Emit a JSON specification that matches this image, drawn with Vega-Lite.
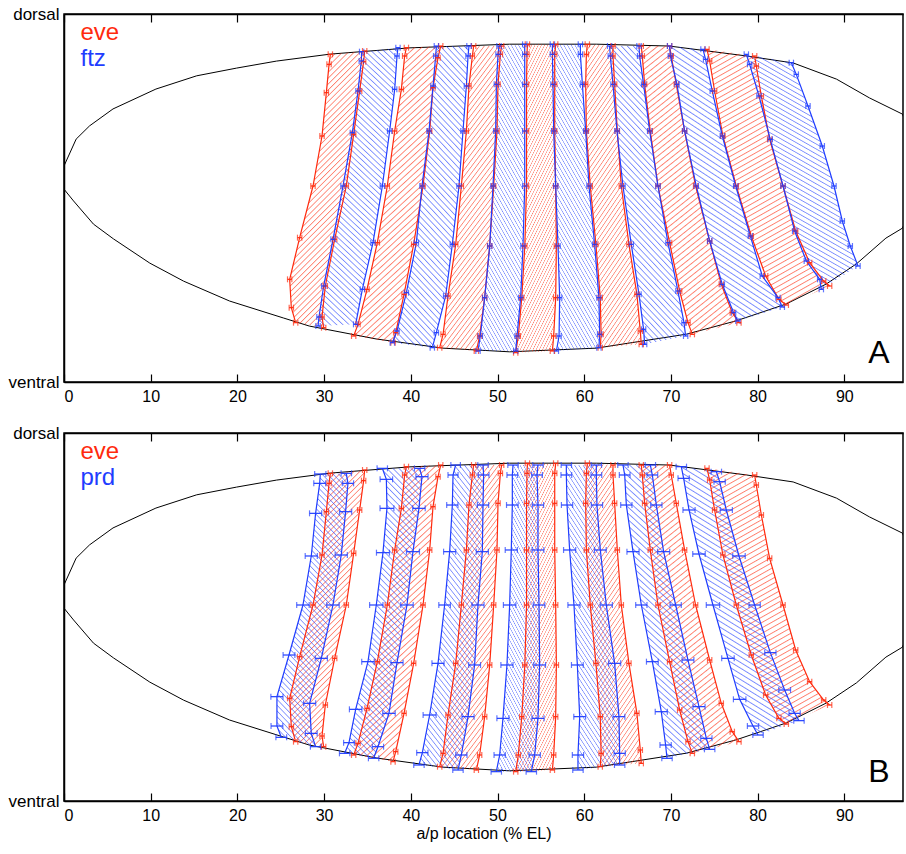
{
"$schema":"https://vega.github.io/schema/vega-lite/v6.json",
"padding":{"left":7,"top":4,"right":0,"bottom":0},
"spacing":18,
"config":{"view":{"stroke":"black","strokeWidth":1.5},"font":"Liberation Sans","axis":{"grid":false,"domainColor":"black","domainWidth":1.5,"tickColor":"black","tickWidth":1.2,"labelColor":"black","labelFont":"Liberation Sans","titleFont":"Liberation Sans","titleColor":"black"},
"style":{
"hr":{"fill":{"gradient":"linear","x1":0,"y1":0,"x2":0.32,"y2":1.184,"stops":[
{"offset":0,"color":"#ff2a0d00"},{"offset":0.003,"color":"#ff2a0d99"},{"offset":0.0065,"color":"#ff2a0d00"},
{"offset":0.0167,"color":"#ff2a0d00"},{"offset":0.0197,"color":"#ff2a0d99"},{"offset":0.0232,"color":"#ff2a0d00"},
{"offset":0.0333,"color":"#ff2a0d00"},{"offset":0.0363,"color":"#ff2a0d99"},{"offset":0.0398,"color":"#ff2a0d00"},
{"offset":0.05,"color":"#ff2a0d00"},{"offset":0.053,"color":"#ff2a0d99"},{"offset":0.0565,"color":"#ff2a0d00"},
{"offset":0.0667,"color":"#ff2a0d00"},{"offset":0.0697,"color":"#ff2a0d99"},{"offset":0.0732,"color":"#ff2a0d00"},
{"offset":0.0833,"color":"#ff2a0d00"},{"offset":0.0863,"color":"#ff2a0d99"},{"offset":0.0898,"color":"#ff2a0d00"},
{"offset":0.1,"color":"#ff2a0d00"},{"offset":0.103,"color":"#ff2a0d99"},{"offset":0.1065,"color":"#ff2a0d00"},
{"offset":0.1167,"color":"#ff2a0d00"},{"offset":0.1197,"color":"#ff2a0d99"},{"offset":0.1232,"color":"#ff2a0d00"},
{"offset":0.1333,"color":"#ff2a0d00"},{"offset":0.1363,"color":"#ff2a0d99"},{"offset":0.1398,"color":"#ff2a0d00"},
{"offset":0.15,"color":"#ff2a0d00"},{"offset":0.153,"color":"#ff2a0d99"},{"offset":0.1565,"color":"#ff2a0d00"},
{"offset":0.1667,"color":"#ff2a0d00"},{"offset":0.1697,"color":"#ff2a0d99"},{"offset":0.1732,"color":"#ff2a0d00"},
{"offset":0.1833,"color":"#ff2a0d00"},{"offset":0.1863,"color":"#ff2a0d99"},{"offset":0.1898,"color":"#ff2a0d00"},
{"offset":0.2,"color":"#ff2a0d00"},{"offset":0.203,"color":"#ff2a0d99"},{"offset":0.2065,"color":"#ff2a0d00"},
{"offset":0.2167,"color":"#ff2a0d00"},{"offset":0.2197,"color":"#ff2a0d99"},{"offset":0.2232,"color":"#ff2a0d00"},
{"offset":0.2333,"color":"#ff2a0d00"},{"offset":0.2363,"color":"#ff2a0d99"},{"offset":0.2398,"color":"#ff2a0d00"},
{"offset":0.25,"color":"#ff2a0d00"},{"offset":0.253,"color":"#ff2a0d99"},{"offset":0.2565,"color":"#ff2a0d00"},
{"offset":0.2667,"color":"#ff2a0d00"},{"offset":0.2697,"color":"#ff2a0d99"},{"offset":0.2732,"color":"#ff2a0d00"},
{"offset":0.2833,"color":"#ff2a0d00"},{"offset":0.2863,"color":"#ff2a0d99"},{"offset":0.2898,"color":"#ff2a0d00"},
{"offset":0.3,"color":"#ff2a0d00"},{"offset":0.303,"color":"#ff2a0d99"},{"offset":0.3065,"color":"#ff2a0d00"},
{"offset":0.3167,"color":"#ff2a0d00"},{"offset":0.3197,"color":"#ff2a0d99"},{"offset":0.3232,"color":"#ff2a0d00"},
{"offset":0.3333,"color":"#ff2a0d00"},{"offset":0.3363,"color":"#ff2a0d99"},{"offset":0.3398,"color":"#ff2a0d00"},
{"offset":0.35,"color":"#ff2a0d00"},{"offset":0.353,"color":"#ff2a0d99"},{"offset":0.3565,"color":"#ff2a0d00"},
{"offset":0.3667,"color":"#ff2a0d00"},{"offset":0.3697,"color":"#ff2a0d99"},{"offset":0.3732,"color":"#ff2a0d00"},
{"offset":0.3833,"color":"#ff2a0d00"},{"offset":0.3863,"color":"#ff2a0d99"},{"offset":0.3898,"color":"#ff2a0d00"},
{"offset":0.4,"color":"#ff2a0d00"},{"offset":0.403,"color":"#ff2a0d99"},{"offset":0.4065,"color":"#ff2a0d00"},
{"offset":0.4167,"color":"#ff2a0d00"},{"offset":0.4197,"color":"#ff2a0d99"},{"offset":0.4232,"color":"#ff2a0d00"},
{"offset":0.4333,"color":"#ff2a0d00"},{"offset":0.4363,"color":"#ff2a0d99"},{"offset":0.4398,"color":"#ff2a0d00"},
{"offset":0.45,"color":"#ff2a0d00"},{"offset":0.453,"color":"#ff2a0d99"},{"offset":0.4565,"color":"#ff2a0d00"},
{"offset":0.4667,"color":"#ff2a0d00"},{"offset":0.4697,"color":"#ff2a0d99"},{"offset":0.4732,"color":"#ff2a0d00"},
{"offset":0.4833,"color":"#ff2a0d00"},{"offset":0.4863,"color":"#ff2a0d99"},{"offset":0.4898,"color":"#ff2a0d00"},
{"offset":0.5,"color":"#ff2a0d00"},{"offset":0.503,"color":"#ff2a0d99"},{"offset":0.5065,"color":"#ff2a0d00"},
{"offset":0.5167,"color":"#ff2a0d00"},{"offset":0.5197,"color":"#ff2a0d99"},{"offset":0.5232,"color":"#ff2a0d00"},
{"offset":0.5333,"color":"#ff2a0d00"},{"offset":0.5363,"color":"#ff2a0d99"},{"offset":0.5398,"color":"#ff2a0d00"},
{"offset":0.55,"color":"#ff2a0d00"},{"offset":0.553,"color":"#ff2a0d99"},{"offset":0.5565,"color":"#ff2a0d00"},
{"offset":0.5667,"color":"#ff2a0d00"},{"offset":0.5697,"color":"#ff2a0d99"},{"offset":0.5732,"color":"#ff2a0d00"},
{"offset":0.5833,"color":"#ff2a0d00"},{"offset":0.5863,"color":"#ff2a0d99"},{"offset":0.5898,"color":"#ff2a0d00"},
{"offset":0.6,"color":"#ff2a0d00"},{"offset":0.603,"color":"#ff2a0d99"},{"offset":0.6065,"color":"#ff2a0d00"},
{"offset":0.6167,"color":"#ff2a0d00"},{"offset":0.6197,"color":"#ff2a0d99"},{"offset":0.6232,"color":"#ff2a0d00"},
{"offset":0.6333,"color":"#ff2a0d00"},{"offset":0.6363,"color":"#ff2a0d99"},{"offset":0.6398,"color":"#ff2a0d00"},
{"offset":0.65,"color":"#ff2a0d00"},{"offset":0.653,"color":"#ff2a0d99"},{"offset":0.6565,"color":"#ff2a0d00"},
{"offset":0.6667,"color":"#ff2a0d00"},{"offset":0.6697,"color":"#ff2a0d99"},{"offset":0.6732,"color":"#ff2a0d00"},
{"offset":0.6833,"color":"#ff2a0d00"},{"offset":0.6863,"color":"#ff2a0d99"},{"offset":0.6898,"color":"#ff2a0d00"},
{"offset":0.7,"color":"#ff2a0d00"},{"offset":0.703,"color":"#ff2a0d99"},{"offset":0.7065,"color":"#ff2a0d00"},
{"offset":0.7167,"color":"#ff2a0d00"},{"offset":0.7197,"color":"#ff2a0d99"},{"offset":0.7232,"color":"#ff2a0d00"},
{"offset":0.7333,"color":"#ff2a0d00"},{"offset":0.7363,"color":"#ff2a0d99"},{"offset":0.7398,"color":"#ff2a0d00"},
{"offset":0.75,"color":"#ff2a0d00"},{"offset":0.753,"color":"#ff2a0d99"},{"offset":0.7565,"color":"#ff2a0d00"},
{"offset":0.7667,"color":"#ff2a0d00"},{"offset":0.7697,"color":"#ff2a0d99"},{"offset":0.7732,"color":"#ff2a0d00"},
{"offset":0.7833,"color":"#ff2a0d00"},{"offset":0.7863,"color":"#ff2a0d99"},{"offset":0.7898,"color":"#ff2a0d00"},
{"offset":0.8,"color":"#ff2a0d00"},{"offset":0.803,"color":"#ff2a0d99"},{"offset":0.8065,"color":"#ff2a0d00"},
{"offset":0.8167,"color":"#ff2a0d00"},{"offset":0.8197,"color":"#ff2a0d99"},{"offset":0.8232,"color":"#ff2a0d00"},
{"offset":0.8333,"color":"#ff2a0d00"},{"offset":0.8363,"color":"#ff2a0d99"},{"offset":0.8398,"color":"#ff2a0d00"},
{"offset":0.85,"color":"#ff2a0d00"},{"offset":0.853,"color":"#ff2a0d99"},{"offset":0.8565,"color":"#ff2a0d00"},
{"offset":0.8667,"color":"#ff2a0d00"},{"offset":0.8697,"color":"#ff2a0d99"},{"offset":0.8732,"color":"#ff2a0d00"},
{"offset":0.8833,"color":"#ff2a0d00"},{"offset":0.8863,"color":"#ff2a0d99"},{"offset":0.8898,"color":"#ff2a0d00"},
{"offset":0.9,"color":"#ff2a0d00"},{"offset":0.903,"color":"#ff2a0d99"},{"offset":0.9065,"color":"#ff2a0d00"},
{"offset":0.9167,"color":"#ff2a0d00"},{"offset":0.9197,"color":"#ff2a0d99"},{"offset":0.9232,"color":"#ff2a0d00"},
{"offset":0.9333,"color":"#ff2a0d00"},{"offset":0.9363,"color":"#ff2a0d99"},{"offset":0.9398,"color":"#ff2a0d00"},
{"offset":0.95,"color":"#ff2a0d00"},{"offset":0.953,"color":"#ff2a0d99"},{"offset":0.9565,"color":"#ff2a0d00"},
{"offset":0.9667,"color":"#ff2a0d00"},{"offset":0.9697,"color":"#ff2a0d99"},{"offset":0.9732,"color":"#ff2a0d00"},
{"offset":0.9833,"color":"#ff2a0d00"},{"offset":0.9863,"color":"#ff2a0d99"},{"offset":0.9898,"color":"#ff2a0d00"},
{"offset":1,"color":"#ff2a0d00"}]}},
"hb":{"fill":{"gradient":"linear","x1":0,"y1":1,"x2":0.32,"y2":-0.184,"stops":[
{"offset":0,"color":"#1f3dff00"},{"offset":0.003,"color":"#1f3dff99"},{"offset":0.0065,"color":"#1f3dff00"},
{"offset":0.0167,"color":"#1f3dff00"},{"offset":0.0197,"color":"#1f3dff99"},{"offset":0.0232,"color":"#1f3dff00"},
{"offset":0.0333,"color":"#1f3dff00"},{"offset":0.0363,"color":"#1f3dff99"},{"offset":0.0398,"color":"#1f3dff00"},
{"offset":0.05,"color":"#1f3dff00"},{"offset":0.053,"color":"#1f3dff99"},{"offset":0.0565,"color":"#1f3dff00"},
{"offset":0.0667,"color":"#1f3dff00"},{"offset":0.0697,"color":"#1f3dff99"},{"offset":0.0732,"color":"#1f3dff00"},
{"offset":0.0833,"color":"#1f3dff00"},{"offset":0.0863,"color":"#1f3dff99"},{"offset":0.0898,"color":"#1f3dff00"},
{"offset":0.1,"color":"#1f3dff00"},{"offset":0.103,"color":"#1f3dff99"},{"offset":0.1065,"color":"#1f3dff00"},
{"offset":0.1167,"color":"#1f3dff00"},{"offset":0.1197,"color":"#1f3dff99"},{"offset":0.1232,"color":"#1f3dff00"},
{"offset":0.1333,"color":"#1f3dff00"},{"offset":0.1363,"color":"#1f3dff99"},{"offset":0.1398,"color":"#1f3dff00"},
{"offset":0.15,"color":"#1f3dff00"},{"offset":0.153,"color":"#1f3dff99"},{"offset":0.1565,"color":"#1f3dff00"},
{"offset":0.1667,"color":"#1f3dff00"},{"offset":0.1697,"color":"#1f3dff99"},{"offset":0.1732,"color":"#1f3dff00"},
{"offset":0.1833,"color":"#1f3dff00"},{"offset":0.1863,"color":"#1f3dff99"},{"offset":0.1898,"color":"#1f3dff00"},
{"offset":0.2,"color":"#1f3dff00"},{"offset":0.203,"color":"#1f3dff99"},{"offset":0.2065,"color":"#1f3dff00"},
{"offset":0.2167,"color":"#1f3dff00"},{"offset":0.2197,"color":"#1f3dff99"},{"offset":0.2232,"color":"#1f3dff00"},
{"offset":0.2333,"color":"#1f3dff00"},{"offset":0.2363,"color":"#1f3dff99"},{"offset":0.2398,"color":"#1f3dff00"},
{"offset":0.25,"color":"#1f3dff00"},{"offset":0.253,"color":"#1f3dff99"},{"offset":0.2565,"color":"#1f3dff00"},
{"offset":0.2667,"color":"#1f3dff00"},{"offset":0.2697,"color":"#1f3dff99"},{"offset":0.2732,"color":"#1f3dff00"},
{"offset":0.2833,"color":"#1f3dff00"},{"offset":0.2863,"color":"#1f3dff99"},{"offset":0.2898,"color":"#1f3dff00"},
{"offset":0.3,"color":"#1f3dff00"},{"offset":0.303,"color":"#1f3dff99"},{"offset":0.3065,"color":"#1f3dff00"},
{"offset":0.3167,"color":"#1f3dff00"},{"offset":0.3197,"color":"#1f3dff99"},{"offset":0.3232,"color":"#1f3dff00"},
{"offset":0.3333,"color":"#1f3dff00"},{"offset":0.3363,"color":"#1f3dff99"},{"offset":0.3398,"color":"#1f3dff00"},
{"offset":0.35,"color":"#1f3dff00"},{"offset":0.353,"color":"#1f3dff99"},{"offset":0.3565,"color":"#1f3dff00"},
{"offset":0.3667,"color":"#1f3dff00"},{"offset":0.3697,"color":"#1f3dff99"},{"offset":0.3732,"color":"#1f3dff00"},
{"offset":0.3833,"color":"#1f3dff00"},{"offset":0.3863,"color":"#1f3dff99"},{"offset":0.3898,"color":"#1f3dff00"},
{"offset":0.4,"color":"#1f3dff00"},{"offset":0.403,"color":"#1f3dff99"},{"offset":0.4065,"color":"#1f3dff00"},
{"offset":0.4167,"color":"#1f3dff00"},{"offset":0.4197,"color":"#1f3dff99"},{"offset":0.4232,"color":"#1f3dff00"},
{"offset":0.4333,"color":"#1f3dff00"},{"offset":0.4363,"color":"#1f3dff99"},{"offset":0.4398,"color":"#1f3dff00"},
{"offset":0.45,"color":"#1f3dff00"},{"offset":0.453,"color":"#1f3dff99"},{"offset":0.4565,"color":"#1f3dff00"},
{"offset":0.4667,"color":"#1f3dff00"},{"offset":0.4697,"color":"#1f3dff99"},{"offset":0.4732,"color":"#1f3dff00"},
{"offset":0.4833,"color":"#1f3dff00"},{"offset":0.4863,"color":"#1f3dff99"},{"offset":0.4898,"color":"#1f3dff00"},
{"offset":0.5,"color":"#1f3dff00"},{"offset":0.503,"color":"#1f3dff99"},{"offset":0.5065,"color":"#1f3dff00"},
{"offset":0.5167,"color":"#1f3dff00"},{"offset":0.5197,"color":"#1f3dff99"},{"offset":0.5232,"color":"#1f3dff00"},
{"offset":0.5333,"color":"#1f3dff00"},{"offset":0.5363,"color":"#1f3dff99"},{"offset":0.5398,"color":"#1f3dff00"},
{"offset":0.55,"color":"#1f3dff00"},{"offset":0.553,"color":"#1f3dff99"},{"offset":0.5565,"color":"#1f3dff00"},
{"offset":0.5667,"color":"#1f3dff00"},{"offset":0.5697,"color":"#1f3dff99"},{"offset":0.5732,"color":"#1f3dff00"},
{"offset":0.5833,"color":"#1f3dff00"},{"offset":0.5863,"color":"#1f3dff99"},{"offset":0.5898,"color":"#1f3dff00"},
{"offset":0.6,"color":"#1f3dff00"},{"offset":0.603,"color":"#1f3dff99"},{"offset":0.6065,"color":"#1f3dff00"},
{"offset":0.6167,"color":"#1f3dff00"},{"offset":0.6197,"color":"#1f3dff99"},{"offset":0.6232,"color":"#1f3dff00"},
{"offset":0.6333,"color":"#1f3dff00"},{"offset":0.6363,"color":"#1f3dff99"},{"offset":0.6398,"color":"#1f3dff00"},
{"offset":0.65,"color":"#1f3dff00"},{"offset":0.653,"color":"#1f3dff99"},{"offset":0.6565,"color":"#1f3dff00"},
{"offset":0.6667,"color":"#1f3dff00"},{"offset":0.6697,"color":"#1f3dff99"},{"offset":0.6732,"color":"#1f3dff00"},
{"offset":0.6833,"color":"#1f3dff00"},{"offset":0.6863,"color":"#1f3dff99"},{"offset":0.6898,"color":"#1f3dff00"},
{"offset":0.7,"color":"#1f3dff00"},{"offset":0.703,"color":"#1f3dff99"},{"offset":0.7065,"color":"#1f3dff00"},
{"offset":0.7167,"color":"#1f3dff00"},{"offset":0.7197,"color":"#1f3dff99"},{"offset":0.7232,"color":"#1f3dff00"},
{"offset":0.7333,"color":"#1f3dff00"},{"offset":0.7363,"color":"#1f3dff99"},{"offset":0.7398,"color":"#1f3dff00"},
{"offset":0.75,"color":"#1f3dff00"},{"offset":0.753,"color":"#1f3dff99"},{"offset":0.7565,"color":"#1f3dff00"},
{"offset":0.7667,"color":"#1f3dff00"},{"offset":0.7697,"color":"#1f3dff99"},{"offset":0.7732,"color":"#1f3dff00"},
{"offset":0.7833,"color":"#1f3dff00"},{"offset":0.7863,"color":"#1f3dff99"},{"offset":0.7898,"color":"#1f3dff00"},
{"offset":0.8,"color":"#1f3dff00"},{"offset":0.803,"color":"#1f3dff99"},{"offset":0.8065,"color":"#1f3dff00"},
{"offset":0.8167,"color":"#1f3dff00"},{"offset":0.8197,"color":"#1f3dff99"},{"offset":0.8232,"color":"#1f3dff00"},
{"offset":0.8333,"color":"#1f3dff00"},{"offset":0.8363,"color":"#1f3dff99"},{"offset":0.8398,"color":"#1f3dff00"},
{"offset":0.85,"color":"#1f3dff00"},{"offset":0.853,"color":"#1f3dff99"},{"offset":0.8565,"color":"#1f3dff00"},
{"offset":0.8667,"color":"#1f3dff00"},{"offset":0.8697,"color":"#1f3dff99"},{"offset":0.8732,"color":"#1f3dff00"},
{"offset":0.8833,"color":"#1f3dff00"},{"offset":0.8863,"color":"#1f3dff99"},{"offset":0.8898,"color":"#1f3dff00"},
{"offset":0.9,"color":"#1f3dff00"},{"offset":0.903,"color":"#1f3dff99"},{"offset":0.9065,"color":"#1f3dff00"},
{"offset":0.9167,"color":"#1f3dff00"},{"offset":0.9197,"color":"#1f3dff99"},{"offset":0.9232,"color":"#1f3dff00"},
{"offset":0.9333,"color":"#1f3dff00"},{"offset":0.9363,"color":"#1f3dff99"},{"offset":0.9398,"color":"#1f3dff00"},
{"offset":0.95,"color":"#1f3dff00"},{"offset":0.953,"color":"#1f3dff99"},{"offset":0.9565,"color":"#1f3dff00"},
{"offset":0.9667,"color":"#1f3dff00"},{"offset":0.9697,"color":"#1f3dff99"},{"offset":0.9732,"color":"#1f3dff00"},
{"offset":0.9833,"color":"#1f3dff00"},{"offset":0.9863,"color":"#1f3dff99"},{"offset":0.9898,"color":"#1f3dff00"},
{"offset":1,"color":"#1f3dff00"}]}}
}},
"datasets":{
"o":[
{"o":1,"x":0,"y":52.4},{"o":2,"x":-0.6,"y":55.6},{"o":3,"x":0,"y":58.7},{"o":4,"x":1.4,"y":66.0},{"o":5,"x":2.95,"y":69.6},{"o":6,"x":5.65,"y":74.2},{"o":7,"x":10.6,"y":79.6},{"o":8,"x":15.3,"y":83.2},{"o":9,"x":19.9,"y":85.3},{"o":10,"x":24.5,"y":87.2},{"o":11,"x":30.7,"y":89.1},{"o":12,"x":39.9,"y":90.8},{"o":13,"x":51.4,"y":91.8},{"o":14,"x":61.4,"y":91.8},{"o":15,"x":69.8,"y":91.3},{"o":16,"x":78.7,"y":88.6},{"o":17,"x":84.1,"y":86.7},{"o":18,"x":89.1,"y":82.3},{"o":19,"x":92.9,"y":77.2},{"o":20,"x":96.7,"y":72.8},{"o":21,"x":99.5,"y":57},{"o":22,"x":96.7,"y":41.8},{"o":23,"x":94.8,"y":39.1},{"o":24,"x":91.4,"y":32.1},{"o":25,"x":87.9,"y":26.6},{"o":26,"x":83.3,"y":21.2},{"o":27,"x":77.5,"y":16.6},{"o":28,"x":71.8,"y":13.0},{"o":29,"x":61.4,"y":9.2},{"o":30,"x":51.4,"y":8.2},{"o":31,"x":43.7,"y":9.2},{"o":32,"x":36,"y":11.7},{"o":33,"x":28.3,"y":15.2},{"o":34,"x":25.3,"y":17.4},{"o":35,"x":19.1,"y":22.0},{"o":36,"x":13.8,"y":27.4},{"o":37,"x":9.9,"y":32.3},{"o":38,"x":5.7,"y":38.9},{"o":39,"x":3.4,"y":42.9},{"o":40,"x":1.1,"y":49.2},{"o":41,"x":0,"y":52.4}
],
"b":[
{"g":"eve","s":1,"d":"a","o":1,"x":30.72,"y":89.04,"e":0.25},{"g":"eve","s":1,"d":"a","o":2,"x":30.57,"y":86.32,"e":0.25},{"g":"eve","s":1,"d":"a","o":3,"x":30.26,"y":78.62,"e":0.25},{"g":"eve","s":1,"d":"a","o":4,"x":29.76,"y":66.85,"e":0.25},{"g":"eve","s":1,"d":"a","o":5,"x":28.72,"y":53.26,"e":0.25},{"g":"eve","s":1,"d":"a","o":6,"x":27.18,"y":39.22,"e":0.25},{"g":"eve","s":1,"d":"a","o":7,"x":26.03,"y":27.9,"e":0.25},{"g":"eve","s":1,"d":"a","o":8,"x":26.22,"y":20.2,"e":0.25},{"g":"eve","s":1,"d":"a","o":9,"x":26.72,"y":16.12,"e":0.25},
{"g":"eve","s":1,"d":"b","o":19,"x":34.68,"y":89.95,"e":0.25},{"g":"eve","s":1,"d":"b","o":18,"x":34.56,"y":87.05,"e":0.25},{"g":"eve","s":1,"d":"b","o":17,"x":34.1,"y":79.08,"e":0.25},{"g":"eve","s":1,"d":"b","o":16,"x":33.41,"y":67.3,"e":0.25},{"g":"eve","s":1,"d":"b","o":15,"x":32.56,"y":53.26,"e":0.25},{"g":"eve","s":1,"d":"b","o":14,"x":31.22,"y":38.77,"e":0.25},{"g":"eve","s":1,"d":"b","o":13,"x":30.14,"y":26.09,"e":0.25},{"g":"eve","s":1,"d":"b","o":12,"x":29.76,"y":17.66,"e":0.25},{"g":"eve","s":1,"d":"b","o":11,"x":29.95,"y":14.76,"e":0.25},
{"g":"eve","s":2,"d":"a","o":1,"x":39.49,"y":90.85,"e":0.25},{"g":"eve","s":2,"d":"a","o":2,"x":39.29,"y":88.59,"e":0.25},{"g":"eve","s":2,"d":"a","o":3,"x":38.91,"y":79.53,"e":0.25},{"g":"eve","s":2,"d":"a","o":4,"x":38.14,"y":68.21,"e":0.25},{"g":"eve","s":2,"d":"a","o":5,"x":37.29,"y":53.26,"e":0.25},{"g":"eve","s":2,"d":"a","o":6,"x":36.14,"y":37.86,"e":0.25},{"g":"eve","s":2,"d":"a","o":7,"x":34.95,"y":25.18,"e":0.25},{"g":"eve","s":2,"d":"a","o":8,"x":33.91,"y":15.67,"e":0.25},{"g":"eve","s":2,"d":"a","o":9,"x":33.41,"y":12.5,"e":0.25},
{"g":"eve","s":2,"d":"b","o":19,"x":43.45,"y":91.3,"e":0.25},{"g":"eve","s":2,"d":"b","o":18,"x":43.14,"y":88.13,"e":0.25},{"g":"eve","s":2,"d":"b","o":17,"x":42.56,"y":79.98,"e":0.25},{"g":"eve","s":2,"d":"b","o":16,"x":42.18,"y":68.21,"e":0.25},{"g":"eve","s":2,"d":"b","o":15,"x":41.41,"y":53.26,"e":0.25},{"g":"eve","s":2,"d":"b","o":14,"x":40.33,"y":37.41,"e":0.25},{"g":"eve","s":2,"d":"b","o":13,"x":39.22,"y":23.82,"e":0.25},{"g":"eve","s":2,"d":"b","o":12,"x":38.26,"y":13.41,"e":0.25},{"g":"eve","s":2,"d":"b","o":11,"x":37.95,"y":10.69,"e":0.25},
{"g":"eve","s":3,"d":"a","o":1,"x":47.25,"y":91.3,"e":0.25},{"g":"eve","s":3,"d":"a","o":2,"x":47.1,"y":88.59,"e":0.25},{"g":"eve","s":3,"d":"a","o":3,"x":46.71,"y":80.43,"e":0.25},{"g":"eve","s":3,"d":"a","o":4,"x":46.41,"y":68.21,"e":0.25},{"g":"eve","s":3,"d":"a","o":5,"x":45.83,"y":53.26,"e":0.25},{"g":"eve","s":3,"d":"a","o":6,"x":45.18,"y":37.41,"e":0.25},{"g":"eve","s":3,"d":"a","o":7,"x":44.29,"y":23.37,"e":0.25},{"g":"eve","s":3,"d":"a","o":8,"x":43.72,"y":12.95,"e":0.25},{"g":"eve","s":3,"d":"a","o":9,"x":43.33,"y":9.33,"e":0.25},
{"g":"eve","s":3,"d":"b","o":19,"x":50.48,"y":91.3,"e":0.25},{"g":"eve","s":3,"d":"b","o":18,"x":50.33,"y":89.04,"e":0.25},{"g":"eve","s":3,"d":"b","o":17,"x":50.06,"y":80.89,"e":0.25},{"g":"eve","s":3,"d":"b","o":16,"x":49.94,"y":68.21,"e":0.25},{"g":"eve","s":3,"d":"b","o":15,"x":49.56,"y":53.26,"e":0.25},{"g":"eve","s":3,"d":"b","o":14,"x":49.1,"y":36.96,"e":0.25},{"g":"eve","s":3,"d":"b","o":13,"x":48.52,"y":22.92,"e":0.25},{"g":"eve","s":3,"d":"b","o":12,"x":47.94,"y":12.5,"e":0.25},{"g":"eve","s":3,"d":"b","o":11,"x":47.56,"y":8.42,"e":0.25},
{"g":"eve","s":4,"d":"a","o":1,"x":53.45,"y":91.76,"e":0.25},{"g":"eve","s":4,"d":"a","o":2,"x":53.4,"y":89.04,"e":0.25},{"g":"eve","s":4,"d":"a","o":3,"x":53.35,"y":80.89,"e":0.25},{"g":"eve","s":4,"d":"a","o":4,"x":53.35,"y":68.21,"e":0.25},{"g":"eve","s":4,"d":"a","o":5,"x":53.35,"y":53.26,"e":0.25},{"g":"eve","s":4,"d":"a","o":6,"x":53.15,"y":36.96,"e":0.25},{"g":"eve","s":4,"d":"a","o":7,"x":52.8,"y":22.92,"e":0.25},{"g":"eve","s":4,"d":"a","o":8,"x":52.4,"y":12.5,"e":0.25},{"g":"eve","s":4,"d":"a","o":9,"x":52.1,"y":7.97,"e":0.25},
{"g":"eve","s":4,"d":"b","o":19,"x":56.71,"y":91.76,"e":0.25},{"g":"eve","s":4,"d":"b","o":18,"x":56.6,"y":89.04,"e":0.25},{"g":"eve","s":4,"d":"b","o":17,"x":56.6,"y":80.89,"e":0.25},{"g":"eve","s":4,"d":"b","o":16,"x":56.6,"y":68.21,"e":0.25},{"g":"eve","s":4,"d":"b","o":15,"x":56.71,"y":53.26,"e":0.25},{"g":"eve","s":4,"d":"b","o":14,"x":56.79,"y":36.96,"e":0.25},{"g":"eve","s":4,"d":"b","o":13,"x":56.71,"y":22.92,"e":0.25},{"g":"eve","s":4,"d":"b","o":12,"x":56.48,"y":12.5,"e":0.25},{"g":"eve","s":4,"d":"b","o":11,"x":56.33,"y":8.42,"e":0.25},
{"g":"eve","s":5,"d":"a","o":1,"x":60.36,"y":91.76,"e":0.25},{"g":"eve","s":5,"d":"a","o":2,"x":60.25,"y":89.04,"e":0.25},{"g":"eve","s":5,"d":"a","o":3,"x":60.17,"y":80.89,"e":0.25},{"g":"eve","s":5,"d":"a","o":4,"x":60.25,"y":68.21,"e":0.25},{"g":"eve","s":5,"d":"a","o":5,"x":60.7,"y":53.26,"e":0.25},{"g":"eve","s":5,"d":"a","o":6,"x":61.35,"y":37.41,"e":0.25},{"g":"eve","s":5,"d":"a","o":7,"x":61.85,"y":22.92,"e":0.25},{"g":"eve","s":5,"d":"a","o":8,"x":61.95,"y":12.95,"e":0.25},{"g":"eve","s":5,"d":"a","o":9,"x":61.85,"y":9.33,"e":0.25},
{"g":"eve","s":5,"d":"b","o":19,"x":63.32,"y":91.3,"e":0.25},{"g":"eve","s":5,"d":"b","o":18,"x":63.32,"y":88.59,"e":0.25},{"g":"eve","s":5,"d":"b","o":17,"x":63.51,"y":80.89,"e":0.25},{"g":"eve","s":5,"d":"b","o":16,"x":63.82,"y":68.21,"e":0.25},{"g":"eve","s":5,"d":"b","o":15,"x":64.28,"y":53.26,"e":0.25},{"g":"eve","s":5,"d":"b","o":14,"x":65.16,"y":37.41,"e":0.25},{"g":"eve","s":5,"d":"b","o":13,"x":66.08,"y":23.82,"e":0.25},{"g":"eve","s":5,"d":"b","o":12,"x":66.47,"y":13.86,"e":0.25},{"g":"eve","s":5,"d":"b","o":11,"x":66.58,"y":10.23,"e":0.25},
{"g":"eve","s":6,"d":"a","o":1,"x":66.58,"y":91.3,"e":0.25},{"g":"eve","s":6,"d":"a","o":2,"x":66.7,"y":88.59,"e":0.25},{"g":"eve","s":6,"d":"a","o":3,"x":66.97,"y":80.89,"e":0.25},{"g":"eve","s":6,"d":"a","o":4,"x":67.62,"y":68.21,"e":0.25},{"g":"eve","s":6,"d":"a","o":5,"x":68.51,"y":53.26,"e":0.25},{"g":"eve","s":6,"d":"a","o":6,"x":69.85,"y":37.86,"e":0.25},{"g":"eve","s":6,"d":"a","o":7,"x":71.01,"y":24.73,"e":0.25},{"g":"eve","s":6,"d":"a","o":8,"x":71.97,"y":16.12,"e":0.25},{"g":"eve","s":6,"d":"a","o":9,"x":72.47,"y":12.95,"e":0.25},
{"g":"eve","s":6,"d":"b","o":19,"x":69.85,"y":91.3,"e":0.25},{"g":"eve","s":6,"d":"b","o":18,"x":70.04,"y":88.59,"e":0.25},{"g":"eve","s":6,"d":"b","o":17,"x":70.62,"y":80.89,"e":0.25},{"g":"eve","s":6,"d":"b","o":16,"x":71.58,"y":68.21,"e":0.25},{"g":"eve","s":6,"d":"b","o":15,"x":72.85,"y":53.26,"e":0.25},{"g":"eve","s":6,"d":"b","o":14,"x":74.47,"y":38.31,"e":0.25},{"g":"eve","s":6,"d":"b","o":13,"x":75.81,"y":26.54,"e":0.25},{"g":"eve","s":6,"d":"b","o":12,"x":77.08,"y":18.84,"e":0.25},{"g":"eve","s":6,"d":"b","o":11,"x":77.85,"y":16.12,"e":0.25},
{"g":"eve","s":7,"d":"a","o":1,"x":74.16,"y":90.4,"e":0.25},{"g":"eve","s":7,"d":"a","o":2,"x":74.47,"y":87.23,"e":0.25},{"g":"eve","s":7,"d":"a","o":3,"x":75.04,"y":79.08,"e":0.25},{"g":"eve","s":7,"d":"a","o":4,"x":76.0,"y":66.85,"e":0.25},{"g":"eve","s":7,"d":"a","o":5,"x":77.54,"y":53.26,"e":0.25},{"g":"eve","s":7,"d":"a","o":6,"x":79.27,"y":39.67,"e":0.25},{"g":"eve","s":7,"d":"a","o":7,"x":80.93,"y":28.8,"e":0.25},{"g":"eve","s":7,"d":"a","o":8,"x":82.46,"y":22.46,"e":0.25},{"g":"eve","s":7,"d":"a","o":9,"x":83.31,"y":20.92,"e":0.25},
{"g":"eve","s":7,"d":"b","o":19,"x":79.66,"y":88.59,"e":0.25},{"g":"eve","s":7,"d":"b","o":18,"x":79.85,"y":85.87,"e":0.25},{"g":"eve","s":7,"d":"b","o":17,"x":80.43,"y":77.72,"e":0.25},{"g":"eve","s":7,"d":"b","o":16,"x":81.39,"y":65.94,"e":0.25},{"g":"eve","s":7,"d":"b","o":15,"x":82.93,"y":53.26,"e":0.25},{"g":"eve","s":7,"d":"b","o":14,"x":84.39,"y":41.03,"e":0.25},{"g":"eve","s":7,"d":"b","o":13,"x":86.0,"y":32.43,"e":0.25},{"g":"eve","s":7,"d":"b","o":12,"x":87.62,"y":27.44,"e":0.25},{"g":"eve","s":7,"d":"b","o":11,"x":88.31,"y":26.09,"e":0.25},
{"g":"ftz","s":1,"d":"a","o":1,"x":34.33,"y":89.76,"e":0.25},{"g":"ftz","s":1,"d":"a","o":2,"x":34.29,"y":87.23,"e":0.25},{"g":"ftz","s":1,"d":"a","o":3,"x":33.91,"y":79.08,"e":0.25},{"g":"ftz","s":1,"d":"a","o":4,"x":33.26,"y":67.75,"e":0.25},{"g":"ftz","s":1,"d":"a","o":5,"x":32.18,"y":53.26,"e":0.25},{"g":"ftz","s":1,"d":"a","o":6,"x":31.03,"y":38.77,"e":0.25},{"g":"ftz","s":1,"d":"a","o":7,"x":29.95,"y":26.09,"e":0.25},{"g":"ftz","s":1,"d":"a","o":8,"x":29.41,"y":17.66,"e":0.25},{"g":"ftz","s":1,"d":"a","o":9,"x":29.3,"y":15.22,"e":0.25},
{"g":"ftz","s":1,"d":"b","o":19,"x":38.52,"y":90.85,"e":0.25},{"g":"ftz","s":1,"d":"b","o":18,"x":38.41,"y":88.59,"e":0.25},{"g":"ftz","s":1,"d":"b","o":17,"x":38.14,"y":79.53,"e":0.25},{"g":"ftz","s":1,"d":"b","o":16,"x":37.56,"y":68.21,"e":0.25},{"g":"ftz","s":1,"d":"b","o":15,"x":36.72,"y":53.26,"e":0.25},{"g":"ftz","s":1,"d":"b","o":14,"x":35.64,"y":37.86,"e":0.25},{"g":"ftz","s":1,"d":"b","o":13,"x":34.41,"y":25.18,"e":0.25},{"g":"ftz","s":1,"d":"b","o":12,"x":33.64,"y":15.67,"e":0.25},
{"g":"ftz","s":2,"d":"a","o":1,"x":42.95,"y":91.3,"e":0.25},{"g":"ftz","s":2,"d":"a","o":2,"x":42.87,"y":88.59,"e":0.25},{"g":"ftz","s":2,"d":"a","o":3,"x":42.56,"y":80.43,"e":0.25},{"g":"ftz","s":2,"d":"a","o":4,"x":42.1,"y":68.21,"e":0.25},{"g":"ftz","s":2,"d":"a","o":5,"x":41.29,"y":53.26,"e":0.25},{"g":"ftz","s":2,"d":"a","o":6,"x":40.64,"y":37.86,"e":0.25},{"g":"ftz","s":2,"d":"a","o":7,"x":39.49,"y":24.27,"e":0.25},{"g":"ftz","s":2,"d":"a","o":8,"x":38.41,"y":13.86,"e":0.25},{"g":"ftz","s":2,"d":"a","o":9,"x":37.87,"y":10.69,"e":0.25},
{"g":"ftz","s":2,"d":"b","o":19,"x":46.71,"y":91.3,"e":0.25},{"g":"ftz","s":2,"d":"b","o":18,"x":46.6,"y":88.59,"e":0.25},{"g":"ftz","s":2,"d":"b","o":17,"x":46.41,"y":80.43,"e":0.25},{"g":"ftz","s":2,"d":"b","o":16,"x":46.02,"y":68.21,"e":0.25},{"g":"ftz","s":2,"d":"b","o":15,"x":45.56,"y":53.26,"e":0.25},{"g":"ftz","s":2,"d":"b","o":14,"x":44.79,"y":37.41,"e":0.25},{"g":"ftz","s":2,"d":"b","o":13,"x":44.02,"y":23.37,"e":0.25},{"g":"ftz","s":2,"d":"b","o":12,"x":42.95,"y":13.41,"e":0.25},{"g":"ftz","s":2,"d":"b","o":11,"x":42.48,"y":9.33,"e":0.25},
{"g":"ftz","s":3,"d":"a","o":1,"x":50.17,"y":91.3,"e":0.25},{"g":"ftz","s":3,"d":"a","o":2,"x":50.06,"y":89.04,"e":0.25},{"g":"ftz","s":3,"d":"a","o":3,"x":49.87,"y":80.89,"e":0.25},{"g":"ftz","s":3,"d":"a","o":4,"x":49.79,"y":68.21,"e":0.25},{"g":"ftz","s":3,"d":"a","o":5,"x":49.48,"y":53.26,"e":0.25},{"g":"ftz","s":3,"d":"a","o":6,"x":49.1,"y":36.96,"e":0.25},{"g":"ftz","s":3,"d":"a","o":7,"x":48.52,"y":22.92,"e":0.25},{"g":"ftz","s":3,"d":"a","o":8,"x":48.02,"y":12.5,"e":0.25},{"g":"ftz","s":3,"d":"a","o":9,"x":47.75,"y":8.42,"e":0.25},
{"g":"ftz","s":3,"d":"b","o":19,"x":53.14,"y":91.76,"e":0.25},{"g":"ftz","s":3,"d":"b","o":18,"x":53.14,"y":89.04,"e":0.25},{"g":"ftz","s":3,"d":"b","o":17,"x":53.14,"y":80.89,"e":0.25},{"g":"ftz","s":3,"d":"b","o":16,"x":53.14,"y":68.21,"e":0.25},{"g":"ftz","s":3,"d":"b","o":15,"x":53.14,"y":53.26,"e":0.25},{"g":"ftz","s":3,"d":"b","o":14,"x":52.94,"y":36.96,"e":0.25},{"g":"ftz","s":3,"d":"b","o":13,"x":52.67,"y":22.92,"e":0.25},{"g":"ftz","s":3,"d":"b","o":12,"x":52.25,"y":12.5,"e":0.25},{"g":"ftz","s":3,"d":"b","o":11,"x":52.1,"y":8.42,"e":0.25},
{"g":"ftz","s":4,"d":"a","o":1,"x":56.33,"y":91.76,"e":0.25},{"g":"ftz","s":4,"d":"a","o":2,"x":56.33,"y":89.04,"e":0.25},{"g":"ftz","s":4,"d":"a","o":3,"x":56.4,"y":80.89,"e":0.25},{"g":"ftz","s":4,"d":"a","o":4,"x":56.48,"y":68.21,"e":0.25},{"g":"ftz","s":4,"d":"a","o":5,"x":56.71,"y":53.26,"e":0.25},{"g":"ftz","s":4,"d":"a","o":6,"x":56.98,"y":36.96,"e":0.25},{"g":"ftz","s":4,"d":"a","o":7,"x":57.17,"y":22.92,"e":0.25},{"g":"ftz","s":4,"d":"a","o":8,"x":57.1,"y":12.5,"e":0.25},{"g":"ftz","s":4,"d":"a","o":9,"x":56.79,"y":8.42,"e":0.25},
{"g":"ftz","s":4,"d":"b","o":19,"x":59.56,"y":91.76,"e":0.25},{"g":"ftz","s":4,"d":"b","o":18,"x":59.56,"y":89.04,"e":0.25},{"g":"ftz","s":4,"d":"b","o":17,"x":59.79,"y":80.89,"e":0.25},{"g":"ftz","s":4,"d":"b","o":16,"x":60.17,"y":68.21,"e":0.25},{"g":"ftz","s":4,"d":"b","o":15,"x":60.55,"y":53.26,"e":0.25},{"g":"ftz","s":4,"d":"b","o":14,"x":61.2,"y":37.41,"e":0.25},{"g":"ftz","s":4,"d":"b","o":13,"x":61.7,"y":22.92,"e":0.25},{"g":"ftz","s":4,"d":"b","o":12,"x":61.78,"y":12.95,"e":0.25},{"g":"ftz","s":4,"d":"b","o":11,"x":61.7,"y":9.33,"e":0.25},
{"g":"ftz","s":5,"d":"a","o":1,"x":62.93,"y":91.3,"e":0.25},{"g":"ftz","s":5,"d":"a","o":2,"x":63.01,"y":88.59,"e":0.25},{"g":"ftz","s":5,"d":"a","o":3,"x":63.32,"y":80.89,"e":0.25},{"g":"ftz","s":5,"d":"a","o":4,"x":63.78,"y":68.21,"e":0.25},{"g":"ftz","s":5,"d":"a","o":5,"x":64.47,"y":53.26,"e":0.25},{"g":"ftz","s":5,"d":"a","o":6,"x":65.43,"y":37.41,"e":0.25},{"g":"ftz","s":5,"d":"a","o":7,"x":66.32,"y":23.82,"e":0.25},{"g":"ftz","s":5,"d":"a","o":8,"x":66.85,"y":14.31,"e":0.25},{"g":"ftz","s":5,"d":"a","o":9,"x":66.97,"y":10.23,"e":0.25},
{"g":"ftz","s":5,"d":"b","o":19,"x":66.32,"y":91.3,"e":0.25},{"g":"ftz","s":5,"d":"b","o":18,"x":66.39,"y":88.59,"e":0.25},{"g":"ftz","s":5,"d":"b","o":17,"x":66.85,"y":80.89,"e":0.25},{"g":"ftz","s":5,"d":"b","o":16,"x":67.55,"y":68.21,"e":0.25},{"g":"ftz","s":5,"d":"b","o":15,"x":68.51,"y":53.26,"e":0.25},{"g":"ftz","s":5,"d":"b","o":14,"x":69.66,"y":37.86,"e":0.25},{"g":"ftz","s":5,"d":"b","o":13,"x":70.81,"y":24.73,"e":0.25},{"g":"ftz","s":5,"d":"b","o":12,"x":71.51,"y":16.12,"e":0.25},{"g":"ftz","s":5,"d":"b","o":11,"x":71.7,"y":12.5,"e":0.25},
{"g":"ftz","s":6,"d":"a","o":1,"x":69.85,"y":91.3,"e":0.25},{"g":"ftz","s":6,"d":"a","o":2,"x":69.93,"y":88.59,"e":0.25},{"g":"ftz","s":6,"d":"a","o":3,"x":70.7,"y":80.89,"e":0.25},{"g":"ftz","s":6,"d":"a","o":4,"x":71.58,"y":68.21,"e":0.25},{"g":"ftz","s":6,"d":"a","o":5,"x":72.93,"y":53.26,"e":0.25},{"g":"ftz","s":6,"d":"a","o":6,"x":74.47,"y":38.31,"e":0.25},{"g":"ftz","s":6,"d":"a","o":7,"x":75.93,"y":26.54,"e":0.25},{"g":"ftz","s":6,"d":"a","o":8,"x":77.23,"y":18.84,"e":0.25},{"g":"ftz","s":6,"d":"a","o":9,"x":77.73,"y":16.58,"e":0.25},
{"g":"ftz","s":6,"d":"b","o":19,"x":73.7,"y":90.4,"e":0.25},{"g":"ftz","s":6,"d":"b","o":18,"x":74.0,"y":87.68,"e":0.25},{"g":"ftz","s":6,"d":"b","o":17,"x":74.77,"y":79.08,"e":0.25},{"g":"ftz","s":6,"d":"b","o":16,"x":75.93,"y":66.85,"e":0.25},{"g":"ftz","s":6,"d":"b","o":15,"x":77.47,"y":53.26,"e":0.25},{"g":"ftz","s":6,"d":"b","o":14,"x":79.16,"y":39.67,"e":0.25},{"g":"ftz","s":6,"d":"b","o":13,"x":80.54,"y":28.8,"e":0.25},{"g":"ftz","s":6,"d":"b","o":12,"x":82.35,"y":22.92,"e":0.25},{"g":"ftz","s":6,"d":"b","o":11,"x":82.85,"y":20.38,"e":0.25},
{"g":"ftz","s":7,"d":"a","o":1,"x":78.7,"y":89.04,"e":0.25},{"g":"ftz","s":7,"d":"a","o":2,"x":79.08,"y":86.32,"e":0.25},{"g":"ftz","s":7,"d":"a","o":3,"x":80.16,"y":77.72,"e":0.25},{"g":"ftz","s":7,"d":"a","o":4,"x":81.46,"y":65.94,"e":0.25},{"g":"ftz","s":7,"d":"a","o":5,"x":82.93,"y":53.26,"e":0.25},{"g":"ftz","s":7,"d":"a","o":6,"x":84.27,"y":41.03,"e":0.25},{"g":"ftz","s":7,"d":"a","o":7,"x":85.62,"y":32.88,"e":0.25},{"g":"ftz","s":7,"d":"a","o":8,"x":87.16,"y":27.9,"e":0.25},{"g":"ftz","s":7,"d":"a","o":9,"x":87.35,"y":25.18,"e":0.25},
{"g":"ftz","s":7,"d":"b","o":19,"x":83.89,"y":86.77,"e":0.25},{"g":"ftz","s":7,"d":"b","o":18,"x":84.46,"y":83.6,"e":0.25},{"g":"ftz","s":7,"d":"b","o":17,"x":85.81,"y":75.0,"e":0.25},{"g":"ftz","s":7,"d":"b","o":16,"x":87.46,"y":64.13,"e":0.25},{"g":"ftz","s":7,"d":"b","o":15,"x":88.81,"y":53.26,"e":0.25},{"g":"ftz","s":7,"d":"b","o":14,"x":89.77,"y":43.75,"e":0.25},{"g":"ftz","s":7,"d":"b","o":13,"x":90.69,"y":36.96,"e":0.25},{"g":"ftz","s":7,"d":"b","o":12,"x":91.58,"y":31.52,"e":0.25},
{"g":"prd","s":1,"d":"a","o":1,"x":29.56,"y":88.86,"e":0.65},{"g":"prd","s":1,"d":"a","o":2,"x":29.49,"y":86.32,"e":0.68},{"g":"prd","s":1,"d":"a","o":3,"x":29.02,"y":78.17,"e":0.7},{"g":"prd","s":1,"d":"a","o":4,"x":28.52,"y":66.58,"e":0.7},{"g":"prd","s":1,"d":"a","o":5,"x":27.56,"y":53.26,"e":0.72},{"g":"prd","s":1,"d":"a","o":6,"x":25.95,"y":39.67,"e":0.68},{"g":"prd","s":1,"d":"a","o":7,"x":24.56,"y":28.35,"e":0.7},{"g":"prd","s":1,"d":"a","o":8,"x":24.56,"y":20.38,"e":0.68},{"g":"prd","s":1,"d":"a","o":9,"x":25.06,"y":17.3,"e":0.62},
{"g":"prd","s":1,"d":"b","o":19,"x":32.56,"y":89.04,"e":0.6},{"g":"prd","s":1,"d":"b","o":18,"x":32.75,"y":86.32,"e":0.65},{"g":"prd","s":1,"d":"b","o":17,"x":32.48,"y":78.62,"e":0.7},{"g":"prd","s":1,"d":"b","o":16,"x":31.98,"y":66.85,"e":0.7},{"g":"prd","s":1,"d":"b","o":15,"x":31.02,"y":53.26,"e":0.72},{"g":"prd","s":1,"d":"b","o":14,"x":29.68,"y":38.77,"e":0.7},{"g":"prd","s":1,"d":"b","o":13,"x":28.33,"y":26.54,"e":0.7},{"g":"prd","s":1,"d":"b","o":12,"x":28.52,"y":18.38,"e":0.68},{"g":"prd","s":1,"d":"b","o":11,"x":29.02,"y":14.76,"e":0.6},
{"g":"prd","s":2,"d":"a","o":1,"x":36.71,"y":90.4,"e":0.6},{"g":"prd","s":2,"d":"a","o":2,"x":37.18,"y":87.41,"e":0.72},{"g":"prd","s":2,"d":"a","o":3,"x":37.25,"y":79.53,"e":0.8},{"g":"prd","s":2,"d":"a","o":4,"x":36.79,"y":67.48,"e":0.75},{"g":"prd","s":2,"d":"a","o":5,"x":36.02,"y":53.26,"e":0.77},{"g":"prd","s":2,"d":"a","o":6,"x":35.06,"y":37.86,"e":0.72},{"g":"prd","s":2,"d":"a","o":7,"x":33.64,"y":24.91,"e":0.72},{"g":"prd","s":2,"d":"a","o":8,"x":32.87,"y":15.85,"e":0.62},{"g":"prd","s":2,"d":"a","o":9,"x":32.37,"y":12.95,"e":0.6},
{"g":"prd","s":2,"d":"b","o":19,"x":41.02,"y":90.4,"e":0.6},{"g":"prd","s":2,"d":"b","o":18,"x":41.29,"y":88.13,"e":0.7},{"g":"prd","s":2,"d":"b","o":17,"x":40.94,"y":79.53,"e":0.72},{"g":"prd","s":2,"d":"b","o":16,"x":40.25,"y":67.75,"e":0.75},{"g":"prd","s":2,"d":"b","o":15,"x":39.56,"y":53.26,"e":0.72},{"g":"prd","s":2,"d":"b","o":14,"x":38.41,"y":37.59,"e":0.7},{"g":"prd","s":2,"d":"b","o":13,"x":37.48,"y":23.82,"e":0.72},{"g":"prd","s":2,"d":"b","o":12,"x":36.21,"y":14.76,"e":0.65},{"g":"prd","s":2,"d":"b","o":11,"x":35.71,"y":11.6,"e":0.6},
{"g":"prd","s":3,"d":"a","o":1,"x":45.17,"y":91.3,"e":0.55},{"g":"prd","s":3,"d":"a","o":2,"x":44.87,"y":88.59,"e":0.58},{"g":"prd","s":3,"d":"a","o":3,"x":44.79,"y":80.43,"e":0.65},{"g":"prd","s":3,"d":"a","o":4,"x":44.48,"y":67.75,"e":0.7},{"g":"prd","s":3,"d":"a","o":5,"x":43.9,"y":53.26,"e":0.67},{"g":"prd","s":3,"d":"a","o":6,"x":43.14,"y":37.41,"e":0.7},{"g":"prd","s":3,"d":"a","o":7,"x":42.17,"y":23.37,"e":0.75},{"g":"prd","s":3,"d":"a","o":8,"x":41.33,"y":13.13,"e":0.65},{"g":"prd","s":3,"d":"a","o":9,"x":40.94,"y":9.78,"e":0.6},
{"g":"prd","s":3,"d":"b","o":19,"x":48.33,"y":91.3,"e":0.6},{"g":"prd","s":3,"d":"b","o":18,"x":48.4,"y":88.59,"e":0.62},{"g":"prd","s":3,"d":"b","o":17,"x":48.33,"y":80.43,"e":0.65},{"g":"prd","s":3,"d":"b","o":16,"x":48.25,"y":67.75,"e":0.7},{"g":"prd","s":3,"d":"b","o":15,"x":47.75,"y":53.26,"e":0.7},{"g":"prd","s":3,"d":"b","o":14,"x":47.36,"y":36.96,"e":0.68},{"g":"prd","s":3,"d":"b","o":13,"x":46.6,"y":22.92,"e":0.7},{"g":"prd","s":3,"d":"b","o":12,"x":45.83,"y":12.5,"e":0.65},{"g":"prd","s":3,"d":"b","o":11,"x":45.44,"y":8.42,"e":0.6},
{"g":"prd","s":4,"d":"a","o":1,"x":51.79,"y":91.3,"e":0.6},{"g":"prd","s":4,"d":"a","o":2,"x":51.71,"y":88.59,"e":0.62},{"g":"prd","s":4,"d":"a","o":3,"x":51.71,"y":80.43,"e":0.67},{"g":"prd","s":4,"d":"a","o":4,"x":51.59,"y":68.21,"e":0.7},{"g":"prd","s":4,"d":"a","o":5,"x":51.4,"y":53.26,"e":0.72},{"g":"prd","s":4,"d":"a","o":6,"x":51.09,"y":36.96,"e":0.7},{"g":"prd","s":4,"d":"a","o":7,"x":50.63,"y":22.46,"e":0.7},{"g":"prd","s":4,"d":"a","o":8,"x":50.25,"y":12.5,"e":0.65},{"g":"prd","s":4,"d":"a","o":9,"x":49.86,"y":7.97,"e":0.6},
{"g":"prd","s":4,"d":"b","o":19,"x":54.67,"y":91.3,"e":0.6},{"g":"prd","s":4,"d":"b","o":18,"x":54.56,"y":88.59,"e":0.62},{"g":"prd","s":4,"d":"b","o":17,"x":54.67,"y":80.43,"e":0.65},{"g":"prd","s":4,"d":"b","o":16,"x":54.67,"y":68.21,"e":0.68},{"g":"prd","s":4,"d":"b","o":15,"x":54.79,"y":53.26,"e":0.67},{"g":"prd","s":4,"d":"b","o":14,"x":54.86,"y":36.96,"e":0.68},{"g":"prd","s":4,"d":"b","o":13,"x":54.67,"y":22.46,"e":0.7},{"g":"prd","s":4,"d":"b","o":12,"x":54.29,"y":12.5,"e":0.65},{"g":"prd","s":4,"d":"b","o":11,"x":53.9,"y":7.97,"e":0.6},
{"g":"prd","s":5,"d":"a","o":1,"x":57.94,"y":91.3,"e":0.6},{"g":"prd","s":5,"d":"a","o":2,"x":57.94,"y":88.59,"e":0.62},{"g":"prd","s":5,"d":"a","o":3,"x":58.02,"y":80.43,"e":0.65},{"g":"prd","s":5,"d":"a","o":4,"x":58.32,"y":68.21,"e":0.7},{"g":"prd","s":5,"d":"a","o":5,"x":58.82,"y":53.26,"e":0.7},{"g":"prd","s":5,"d":"a","o":6,"x":59.21,"y":36.96,"e":0.68},{"g":"prd","s":5,"d":"a","o":7,"x":59.48,"y":22.92,"e":0.68},{"g":"prd","s":5,"d":"a","o":8,"x":59.28,"y":12.5,"e":0.65},{"g":"prd","s":5,"d":"a","o":9,"x":59.28,"y":8.42,"e":0.6},
{"g":"prd","s":5,"d":"b","o":19,"x":61.4,"y":91.3,"e":0.6},{"g":"prd","s":5,"d":"b","o":18,"x":61.4,"y":88.59,"e":0.62},{"g":"prd","s":5,"d":"b","o":17,"x":61.47,"y":80.43,"e":0.65},{"g":"prd","s":5,"d":"b","o":16,"x":61.86,"y":68.21,"e":0.68},{"g":"prd","s":5,"d":"b","o":15,"x":62.55,"y":53.26,"e":0.7},{"g":"prd","s":5,"d":"b","o":14,"x":63.51,"y":37.41,"e":0.7},{"g":"prd","s":5,"d":"b","o":13,"x":64.01,"y":22.92,"e":0.68},{"g":"prd","s":5,"d":"b","o":12,"x":64.09,"y":12.95,"e":0.65},{"g":"prd","s":5,"d":"b","o":11,"x":64.09,"y":9.78,"e":0.6},
{"g":"prd","s":6,"d":"a","o":1,"x":64.47,"y":91.3,"e":0.6},{"g":"prd","s":6,"d":"a","o":2,"x":64.67,"y":88.59,"e":0.62},{"g":"prd","s":6,"d":"a","o":3,"x":64.86,"y":80.43,"e":0.65},{"g":"prd","s":6,"d":"a","o":4,"x":65.63,"y":67.75,"e":0.7},{"g":"prd","s":6,"d":"a","o":5,"x":66.59,"y":53.26,"e":0.65},{"g":"prd","s":6,"d":"a","o":6,"x":67.86,"y":37.86,"e":0.68},{"g":"prd","s":6,"d":"a","o":7,"x":68.89,"y":24.27,"e":0.7},{"g":"prd","s":6,"d":"a","o":8,"x":69.39,"y":15.22,"e":0.65},{"g":"prd","s":6,"d":"a","o":9,"x":69.55,"y":11.6,"e":0.6},
{"g":"prd","s":6,"d":"b","o":19,"x":67.63,"y":91.3,"e":0.6},{"g":"prd","s":6,"d":"b","o":18,"x":67.86,"y":88.59,"e":0.62},{"g":"prd","s":6,"d":"b","o":17,"x":68.32,"y":80.43,"e":0.65},{"g":"prd","s":6,"d":"b","o":16,"x":69.16,"y":67.75,"e":0.7},{"g":"prd","s":6,"d":"b","o":15,"x":70.55,"y":53.26,"e":0.65},{"g":"prd","s":6,"d":"b","o":14,"x":71.97,"y":38.31,"e":0.68},{"g":"prd","s":6,"d":"b","o":13,"x":73.24,"y":25.64,"e":0.7},{"g":"prd","s":6,"d":"b","o":12,"x":74.09,"y":17.03,"e":0.65},{"g":"prd","s":6,"d":"b","o":11,"x":74.47,"y":14.04,"e":0.6},
{"g":"prd","s":7,"d":"a","o":1,"x":71.2,"y":90.85,"e":0.6},{"g":"prd","s":7,"d":"a","o":2,"x":71.47,"y":87.68,"e":0.65},{"g":"prd","s":7,"d":"a","o":3,"x":72.09,"y":79.08,"e":0.7},{"g":"prd","s":7,"d":"a","o":4,"x":73.24,"y":67.12,"e":0.72},{"g":"prd","s":7,"d":"a","o":5,"x":74.85,"y":53.26,"e":0.77},{"g":"prd","s":7,"d":"a","o":6,"x":76.58,"y":38.77,"e":0.72},{"g":"prd","s":7,"d":"a","o":7,"x":77.93,"y":27.63,"e":0.72},{"g":"prd","s":7,"d":"a","o":8,"x":79.47,"y":20.38,"e":0.65},{"g":"prd","s":7,"d":"a","o":9,"x":80.05,"y":17.93,"e":0.6},
{"g":"prd","s":7,"d":"b","o":19,"x":75.24,"y":89.49,"e":0.6},{"g":"prd","s":7,"d":"b","o":18,"x":75.62,"y":86.77,"e":0.65},{"g":"prd","s":7,"d":"b","o":17,"x":76.39,"y":79.08,"e":0.7},{"g":"prd","s":7,"d":"b","o":16,"x":77.85,"y":66.58,"e":0.72},{"g":"prd","s":7,"d":"b","o":15,"x":79.66,"y":53.26,"e":0.65},{"g":"prd","s":7,"d":"b","o":14,"x":81.47,"y":40.31,"e":0.65},{"g":"prd","s":7,"d":"b","o":13,"x":83.12,"y":30.16,"e":0.68},{"g":"prd","s":7,"d":"b","o":12,"x":84.27,"y":23.82,"e":0.65},{"g":"prd","s":7,"d":"b","o":11,"x":84.77,"y":21.83,"e":0.6}
]
},
"vconcat":[
{
"width":839,"height":368,
"resolve":{"axis":{"x":"independent"}},
"layer":[
{"data":{"name":"o"},"mark":{"type":"line","color":"black","strokeWidth":1,"clip":true},
"encoding":{"x":{"field":"x","type":"quantitative","scale":{"domain":[0,96.77],"nice":false,"zero":false},"axis":{"values":[0,10,20,30,40,50,60,70,80,90],"tickSize":-8,"labelPadding":14,"labelFontSize":16,"title":null}},
"y":{"field":"y","type":"quantitative","scale":{"domain":[0,100],"nice":false},"axis":{"values":[0,100],"labelExpr":"datum.value > 50 ? 'dorsal' : 'ventral'","ticks":false,"labelFontSize":17,"labelPadding":5,"title":null}},
"order":{"field":"o","type":"quantitative"}}},
{"data":{"name":"b"},"transform":[{"filter":"datum.g == 'eve'"}],"mark":{"type":"line","style":"hr","strokeOpacity":0},
"encoding":{"x":{"field":"x","type":"quantitative","axis":{"orient":"top","values":[0,10,20,30,40,50,60,70,80,90],"labels":false,"tickSize":-8,"title":null}},"y":{"field":"y","type":"quantitative"},"detail":{"field":"s"},"order":{"field":"o","type":"quantitative"}}},
{"data":{"name":"b"},"transform":[{"filter":"datum.g == 'ftz'"}],"mark":{"type":"line","style":"hb","strokeOpacity":0},
"encoding":{"x":{"field":"x","type":"quantitative","axis":null},"y":{"field":"y","type":"quantitative"},"detail":{"field":"s"},"order":{"field":"o","type":"quantitative"}}},
{"data":{"name":"b"},"transform":[{"filter":"datum.g != 'prd'"}],"mark":{"type":"line","strokeWidth":1.2},
"encoding":{"x":{"field":"x","type":"quantitative","axis":null},"y":{"field":"y","type":"quantitative"},"color":{"field":"g","type":"nominal","scale":{"domain":["eve","ftz","prd"],"range":["#ff2a0d","#1f3dff","#1f3dff"]},"legend":null},"detail":[{"field":"s"},{"field":"d"}],"order":{"field":"o","type":"quantitative"}}},
{"data":{"name":"b"},"transform":[{"filter":"datum.g != 'prd'"}],"mark":{"type":"errorbar","ticks":true,"size":6,"thickness":1.2},
"encoding":{"x":{"field":"x","type":"quantitative","axis":null},"xError":{"field":"e"},"y":{"field":"y","type":"quantitative"},"color":{"field":"g","type":"nominal","legend":null}}},
{"data":{"values":[{}]},"mark":{"type":"text","text":"eve","color":"#ff2a0d","fontSize":24,"align":"left","baseline":"alphabetic"},"encoding":{"x":{"datum":1.9,"type":"quantitative","axis":null},"y":{"datum":92.8,"type":"quantitative"}}},
{"data":{"values":[{}]},"mark":{"type":"text","text":"ftz","color":"#1f3dff","fontSize":24,"align":"left","baseline":"alphabetic"},"encoding":{"x":{"datum":1.9,"type":"quantitative","axis":null},"y":{"datum":86.0,"type":"quantitative"}}},
{"data":{"values":[{}]},"mark":{"type":"text","text":"A","color":"black","fontSize":32,"align":"center","baseline":"alphabetic"},"encoding":{"x":{"datum":94.0,"type":"quantitative","axis":null},"y":{"datum":5.2,"type":"quantitative"}}}
]
},
{
"width":839,"height":368,
"resolve":{"axis":{"x":"independent"}},
"layer":[
{"data":{"name":"o"},"mark":{"type":"line","color":"black","strokeWidth":1,"clip":true},
"encoding":{"x":{"field":"x","type":"quantitative","scale":{"domain":[0,96.77],"nice":false,"zero":false},"axis":{"values":[0,10,20,30,40,50,60,70,80,90],"tickSize":-8,"labelPadding":14,"labelFontSize":16,"title":"a/p location (% EL)","titleFontSize":16,"titleFontWeight":"normal","titlePadding":2}},
"y":{"field":"y","type":"quantitative","scale":{"domain":[0,100],"nice":false},"axis":{"values":[0,100],"labelExpr":"datum.value > 50 ? 'dorsal' : 'ventral'","ticks":false,"labelFontSize":17,"labelPadding":5,"title":null}},
"order":{"field":"o","type":"quantitative"}}},
{"data":{"name":"b"},"transform":[{"filter":"datum.g == 'eve'"}],"mark":{"type":"line","style":"hr","strokeOpacity":0},
"encoding":{"x":{"field":"x","type":"quantitative","axis":{"orient":"top","values":[0,10,20,30,40,50,60,70,80,90],"labels":false,"tickSize":-8,"title":null}},"y":{"field":"y","type":"quantitative"},"detail":{"field":"s"},"order":{"field":"o","type":"quantitative"}}},
{"data":{"name":"b"},"transform":[{"filter":"datum.g == 'prd'"}],"mark":{"type":"line","style":"hb","strokeOpacity":0},
"encoding":{"x":{"field":"x","type":"quantitative","axis":null},"y":{"field":"y","type":"quantitative"},"detail":{"field":"s"},"order":{"field":"o","type":"quantitative"}}},
{"data":{"name":"b"},"transform":[{"filter":"datum.g != 'ftz'"}],"mark":{"type":"line","strokeWidth":1.2},
"encoding":{"x":{"field":"x","type":"quantitative","axis":null},"y":{"field":"y","type":"quantitative"},"color":{"field":"g","type":"nominal","scale":{"domain":["eve","ftz","prd"],"range":["#ff2a0d","#1f3dff","#1f3dff"]},"legend":null},"detail":[{"field":"s"},{"field":"d"}],"order":{"field":"o","type":"quantitative"}}},
{"data":{"name":"b"},"transform":[{"filter":"datum.g != 'ftz'"}],"mark":{"type":"errorbar","ticks":true,"size":6,"thickness":1.2},
"encoding":{"x":{"field":"x","type":"quantitative","axis":null},"xError":{"field":"e"},"y":{"field":"y","type":"quantitative"},"color":{"field":"g","type":"nominal","legend":null}}},
{"data":{"values":[{}]},"mark":{"type":"text","text":"eve","color":"#ff2a0d","fontSize":24,"align":"left","baseline":"alphabetic"},"encoding":{"x":{"datum":1.9,"type":"quantitative","axis":null},"y":{"datum":92.8,"type":"quantitative"}}},
{"data":{"values":[{}]},"mark":{"type":"text","text":"prd","color":"#1f3dff","fontSize":24,"align":"left","baseline":"alphabetic"},"encoding":{"x":{"datum":1.9,"type":"quantitative","axis":null},"y":{"datum":86.0,"type":"quantitative"}}},
{"data":{"values":[{}]},"mark":{"type":"text","text":"B","color":"black","fontSize":32,"align":"center","baseline":"alphabetic"},"encoding":{"x":{"datum":94.0,"type":"quantitative","axis":null},"y":{"datum":5.2,"type":"quantitative"}}}
]
}
]
}
